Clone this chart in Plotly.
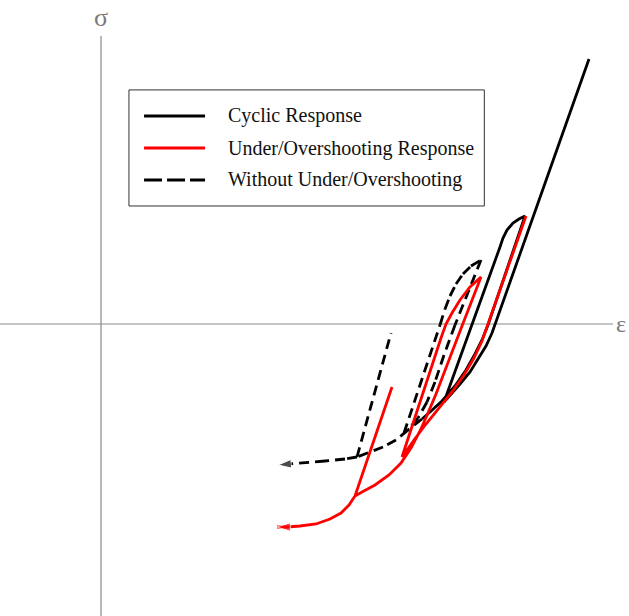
import plotly.graph_objects as go

# Schematic stress-strain paths (strain eps, stress sigma, arbitrary units)
cyclic_eps = [4.88, 3.96, 3.91, 3.85, 3.78, 3.69, 3.59, 3.49, 3.43,
              3.99, 4.02, 4.06, 4.12, 4.18, 4.24,
              3.87, 3.81, 3.74, 3.65, 3.54, 3.41, 3.29, 3.21]
cyclic_sig = [2.65, 0.04, -0.09, -0.22, -0.34, -0.48, -0.60, -0.71, -0.78,
              0.77, 0.86, 0.94, 1.01, 1.05, 1.08,
              -0.01, -0.16, -0.30, -0.46, -0.62, -0.77, -0.88, -0.95]

nominal_eps = [3.21, 3.12, 3.03,
               3.39, 3.44, 3.49, 3.55, 3.62, 3.70, 3.80,
               3.54, 3.43, 3.34, 3.26, 3.17, 3.07, 2.95, 2.82, 2.69, 2.56,
               2.90, None,
               2.56, 2.44, 2.24, 1.99, 1.77]
nominal_sig = [-0.95, -1.02, -1.09,
               -0.01, 0.15, 0.28, 0.40, 0.50, 0.58, 0.64,
               -0.01, -0.31, -0.58, -0.78, -0.94, -1.06, -1.16, -1.23, -1.28, -1.33,
               -0.09, None,
               -1.33, -1.35, -1.37, -1.39, -1.41]

overshoot_eps = [4.25, 3.87, 3.81, 3.73, 3.63, 3.51, 3.38, 3.25, 3.13, 3.01,
                 3.40, 3.45, 3.51, 3.59, 3.69, 3.80,
                 3.61, 3.51, 3.43, 3.35, 3.27, 3.19, 3.10, 3.00, 2.88, 2.74, 2.61, 2.54,
                 2.91,
                 2.54, 2.48, 2.40, 2.29, 2.15, 1.99, 1.86, 1.76]
overshoot_sig = [1.08, -0.01, -0.17, -0.34, -0.51, -0.68, -0.84, -1.00, -1.16, -1.33,
                 -0.14, 0.00, 0.11, 0.24, 0.37, 0.47,
                 -0.02, -0.28, -0.50, -0.70, -0.89, -1.07, -1.24, -1.39, -1.51, -1.61, -1.68, -1.72,
                 -0.63,
                 -1.72, -1.81, -1.89, -1.95, -2.00, -2.02, -2.03, -2.03]

legend_labels = ["Cyclic Response", "Under/Overshooting Response", "Without Under/Overshooting"]
axis_labels = ["σ", "ε"]

X_RANGE = [-1.01, 5.28]
Y_RANGE = [-2.92, 3.24]
EPS_AXIS_END = 5.12
SIG_AXIS_TOP = 2.88

BLACK = "#000000"
RED = "#ff0000"
DASH = "10px,6px"
LW = 2.8
SERIF = "Liberation Serif, Times New Roman, serif"


def end_arrow(n, size=14):
    return [0] * (n - 1) + [size]


fig = go.Figure()

fig.add_trace(go.Scatter(
    x=cyclic_eps, y=cyclic_sig, mode="lines", name=legend_labels[0],
    line=dict(color=BLACK, width=LW), showlegend=False, hoverinfo="skip"))

fig.add_trace(go.Scatter(
    x=nominal_eps, y=nominal_sig, mode="lines+markers", name=legend_labels[2],
    line=dict(color=BLACK, width=LW, dash=DASH),
    marker=dict(symbol="arrow", angleref="previous", color=BLACK,
                size=end_arrow(len(nominal_eps))),
    connectgaps=False, showlegend=False, hoverinfo="skip"))

fig.add_trace(go.Scatter(
    x=overshoot_eps, y=overshoot_sig, mode="lines+markers", name=legend_labels[1],
    line=dict(color=RED, width=LW),
    marker=dict(symbol="arrow", angleref="previous", color=RED,
                size=end_arrow(len(overshoot_eps))),
    showlegend=False, hoverinfo="skip"))

# coordinate axes
fig.add_shape(type="line", xref="x", yref="y", x0=0, x1=0,
              y0=Y_RANGE[0], y1=SIG_AXIS_TOP, layer="below",
              line=dict(color="#b8b8b8", width=2))
fig.add_shape(type="line", xref="x", yref="y", x0=X_RANGE[0], x1=EPS_AXIS_END,
              y0=0, y1=0, layer="below",
              line=dict(color="#8a8a8a", width=1.2))
fig.add_annotation(x=0, y=SIG_AXIS_TOP, xref="x", yref="y", text=axis_labels[0],
                   showarrow=False, yanchor="bottom", yshift=2,
                   font=dict(family=SERIF, size=26, color="#7a7a7a"))
fig.add_annotation(x=1, y=0, xref="paper", yref="y", text=axis_labels[1],
                   showarrow=False, xanchor="right", xshift=-1,
                   font=dict(family=SERIF, size=24, color="#7a7a7a"))

# legend box
box = dict(x0=0.205, x1=0.770, y0=0.6656, y1=0.854)
fig.add_shape(type="rect", xref="paper", yref="paper", **box,
              line=dict(color="#333333", width=1), fillcolor="white")
rows = [0.8117, 0.7597, 0.7078]
styles = [(BLACK, "solid"), (RED, "solid"), (BLACK, "18px,5px")]
order = [0, 1, 2]
for yy, (col, dsh), k in zip(rows, styles, order):
    fig.add_shape(type="line", xref="paper", yref="paper",
                  x0=0.229, x1=0.326, y0=yy, y1=yy,
                  line=dict(color=col, width=3.2, dash=dsh))
    fig.add_annotation(x=0.359, y=yy, xref="paper", yref="paper",
                       text=legend_labels[k], showarrow=False,
                       xanchor="left", yanchor="middle",
                       font=dict(family=SERIF, size=20, color="#111111"))

fig.update_xaxes(range=X_RANGE, visible=False)
fig.update_yaxes(range=Y_RANGE, visible=False)
fig.update_layout(width=629, height=616, margin=dict(l=0, r=0, t=0, b=0),
                  plot_bgcolor="white", paper_bgcolor="white")

fig.write_html("out.html")
